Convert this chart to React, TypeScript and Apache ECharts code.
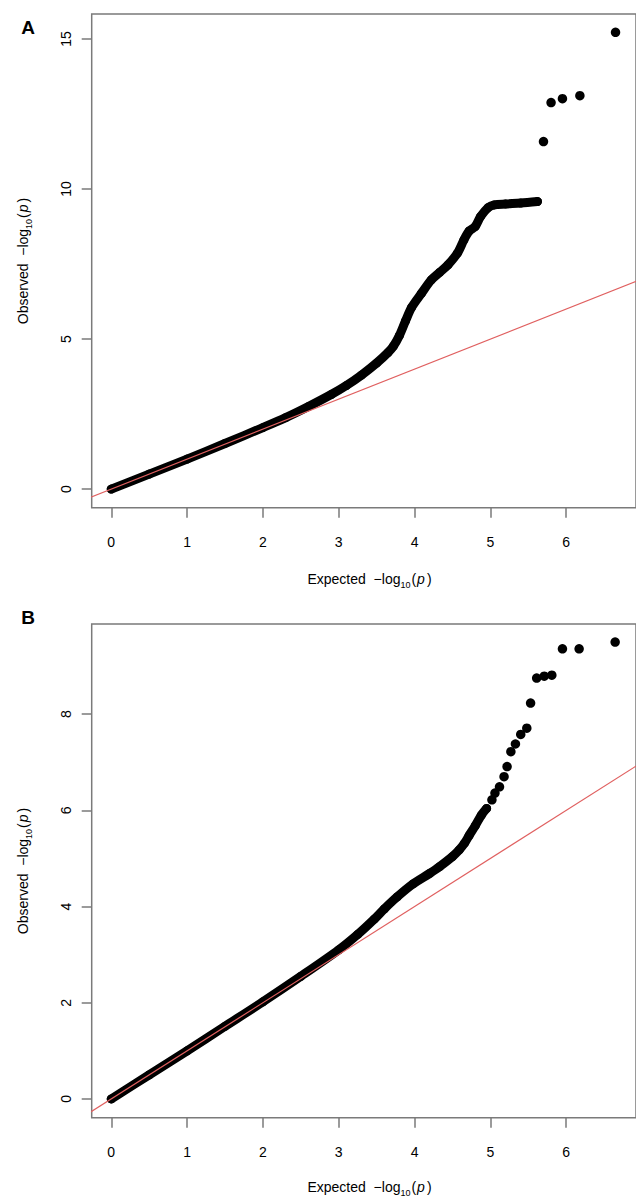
import React, { useEffect, useRef } from "react";
import * as echarts from "echarts";

// ---- data ----
const xTicks = [0, 1, 2, 3, 4, 5, 6];
const yTicksA = [0, 5, 10, 15];
const yTicksB = [0, 2, 4, 6, 8];

// Panel A: dense band of points (expected vs observed -log10 p)
const bandExpA = [0, 0.5, 1, 1.5, 2, 2.3, 2.6, 2.9, 3.1, 3.3, 3.5, 3.65, 3.72, 3.8, 3.88, 3.96, 4.09, 4.22, 4.33, 4.44, 4.565, 4.65, 4.72, 4.8, 4.87, 4.97, 5.05, 5.2, 5.4, 5.62];
const bandObsA = [0, 0.5, 1.0, 1.52, 2.05, 2.38, 2.75, 3.15, 3.45, 3.8, 4.2, 4.55, 4.76, 5.12, 5.6, 6.05, 6.52, 6.97, 7.22, 7.47, 7.86, 8.3, 8.6, 8.75, 9.08, 9.38, 9.47, 9.5, 9.53, 9.58];
// Panel A: isolated top points
const tailExpA = [5.7, 5.8, 5.95, 6.18, 6.65];
const tailObsA = [11.58, 12.88, 13.01, 13.11, 15.22];

// Panel B: dense band
const bandExpB = [0, 0.5, 1, 1.5, 2, 2.5, 3.0, 3.25, 3.47, 3.6, 3.77, 3.98, 4.2, 4.33, 4.5, 4.59, 4.66, 4.72, 4.8, 4.88, 4.95];
const bandObsB = [0, 0.5, 1.0, 1.51, 2.02, 2.55, 3.1, 3.42, 3.74, 3.95, 4.2, 4.47, 4.69, 4.83, 5.04, 5.18, 5.32, 5.48, 5.68, 5.9, 6.04];
// Panel B: isolated upper points
const tailExpB = [5.02, 5.06, 5.12, 5.18, 5.22, 5.27, 5.33, 5.4, 5.48, 5.53, 5.61, 5.71, 5.81, 5.95, 6.17, 6.645];
const tailObsB = [6.22, 6.36, 6.49, 6.7, 6.91, 7.22, 7.38, 7.58, 7.71, 8.23, 8.75, 8.79, 8.81, 9.36, 9.36, 9.5];

// reference line y = x
const refLine = [-1, 20];

const FONT = "'Liberation Sans', Arial, Helvetica, sans-serif";
const AXIS_GRAY = "#7a7a7a";
const TXT = "#000";
const RED = "#e06060";

const zip = (a: number[], b: number[]) => a.map((v, i) => [v, b[i]]);

function titleRich(label: string) {
  return {
    text: `{t|${label}  −log}{s|10}{t|(}{i|p}{t|)}`,
    rich: {
      t: { fontSize: 14, fontFamily: FONT, fill: TXT, lineHeight: 20, verticalAlign: "middle" },
      s: { fontSize: 9, fontFamily: FONT, fill: TXT, lineHeight: 20, verticalAlign: "bottom", padding: [0, 1, 0, 0] },
      i: { fontSize: 14, fontFamily: FONT, fontStyle: "italic", fill: TXT, lineHeight: 20, verticalAlign: "middle", padding: [0, 2, 0, 1] },
    },
  };
}

export default function App() {
  const ref = useRef<HTMLDivElement>(null);
  useEffect(() => {
    if (!ref.current) return;
    const chart = echarts.init(ref.current, undefined, { renderer: "svg" });

    const mkX = (gridIndex: number) => ({
      gridIndex,
      type: "value",
      min: -0.258,
      max: 6.92,
      axisLine: { show: false, onZero: false },
      splitLine: { show: false },
      axisTick: { show: true, length: 10, customValues: xTicks, lineStyle: { color: AXIS_GRAY, width: 1.5 } },
      axisLabel: { customValues: xTicks, fontSize: 14, color: TXT, fontFamily: FONT, margin: 27 },
    });
    const mkY = (gridIndex: number, min: number, max: number, ticks: number[]) => ({
      gridIndex,
      type: "value",
      min,
      max,
      axisLine: { show: false, onZero: false },
      splitLine: { show: false },
      axisTick: { show: true, length: 10, customValues: ticks, lineStyle: { color: AXIS_GRAY, width: 1.5 } },
      axisLabel: { customValues: ticks, rotate: 90, fontSize: 14, color: TXT, fontFamily: FONT, margin: 19 },
    });

    const band = (xi: number, data: number[][]) => ({
      type: "line",
      xAxisIndex: xi,
      yAxisIndex: xi,
      data,
      smooth: 0.3,
      showSymbol: true,
      symbol: "circle",
      symbolSize: 9,
      itemStyle: { color: "#000", opacity: 1 },
      lineStyle: { color: "#000", width: 9, cap: "round", join: "round" },
      clip: true,
      z: 2,
    });
    const tail = (xi: number, data: number[][]) => ({
      type: "scatter",
      xAxisIndex: xi,
      yAxisIndex: xi,
      data,
      symbol: "circle",
      symbolSize: 9.5,
      itemStyle: { color: "#000", opacity: 1 },
      clip: true,
      z: 2,
    });
    const red = (xi: number) => ({
      type: "line",
      xAxisIndex: xi,
      yAxisIndex: xi,
      data: zip(refLine, refLine),
      showSymbol: false,
      lineStyle: { color: RED, width: 1.2 },
      clip: true,
      z: 3,
    });

    chart.setOption({
      animation: false,
      backgroundColor: "#fff",
      grid: [
        { left: 91.7, top: 14, right: -11.3, height: 493.7, show: true, borderColor: AXIS_GRAY, borderWidth: 1.5, backgroundColor: "transparent" },
        { left: 91.7, top: 624, right: -11.3, height: 493.7, show: true, borderColor: AXIS_GRAY, borderWidth: 1.5, backgroundColor: "transparent" },
      ],
      xAxis: [mkX(0), mkX(1)],
      yAxis: [mkY(0, -0.62, 15.83, yTicksA), mkY(1, -0.39, 9.875, yTicksB)],
      series: [
        band(0, zip(bandExpA, bandObsA)),
        tail(0, zip(tailExpA, tailObsA)),
        red(0),
        band(1, zip(bandExpB, bandObsB)),
        tail(1, zip(tailExpB, tailObsB)),
        red(1),
      ],
      graphic: [
        { type: "text", x: 28, y: 27, style: { text: "A", font: `bold 19px ${FONT}`, fill: "#000", align: "center", verticalAlign: "middle" } },
        { type: "text", x: 28, y: 617, style: { text: "B", font: `bold 19px ${FONT}`, fill: "#000", align: "center", verticalAlign: "middle" } },
        { type: "text", x: 369.5, y: 579, style: { ...titleRich("Expected"), align: "center", verticalAlign: "middle" } },
        { type: "text", x: 369.5, y: 1187, style: { ...titleRich("Expected"), align: "center", verticalAlign: "middle" } },
        { type: "text", x: 23, y: 261, rotation: Math.PI / 2, style: { ...titleRich("Observed"), align: "center", verticalAlign: "middle" } },
        { type: "text", x: 23, y: 871, rotation: Math.PI / 2, style: { ...titleRich("Observed"), align: "center", verticalAlign: "middle" } },
      ],
    });
    return () => chart.dispose();
  }, []);
  return <div ref={ref} style={{ position: "absolute", left: 0, top: 0, width: 636, height: 1197 }} />;
}
